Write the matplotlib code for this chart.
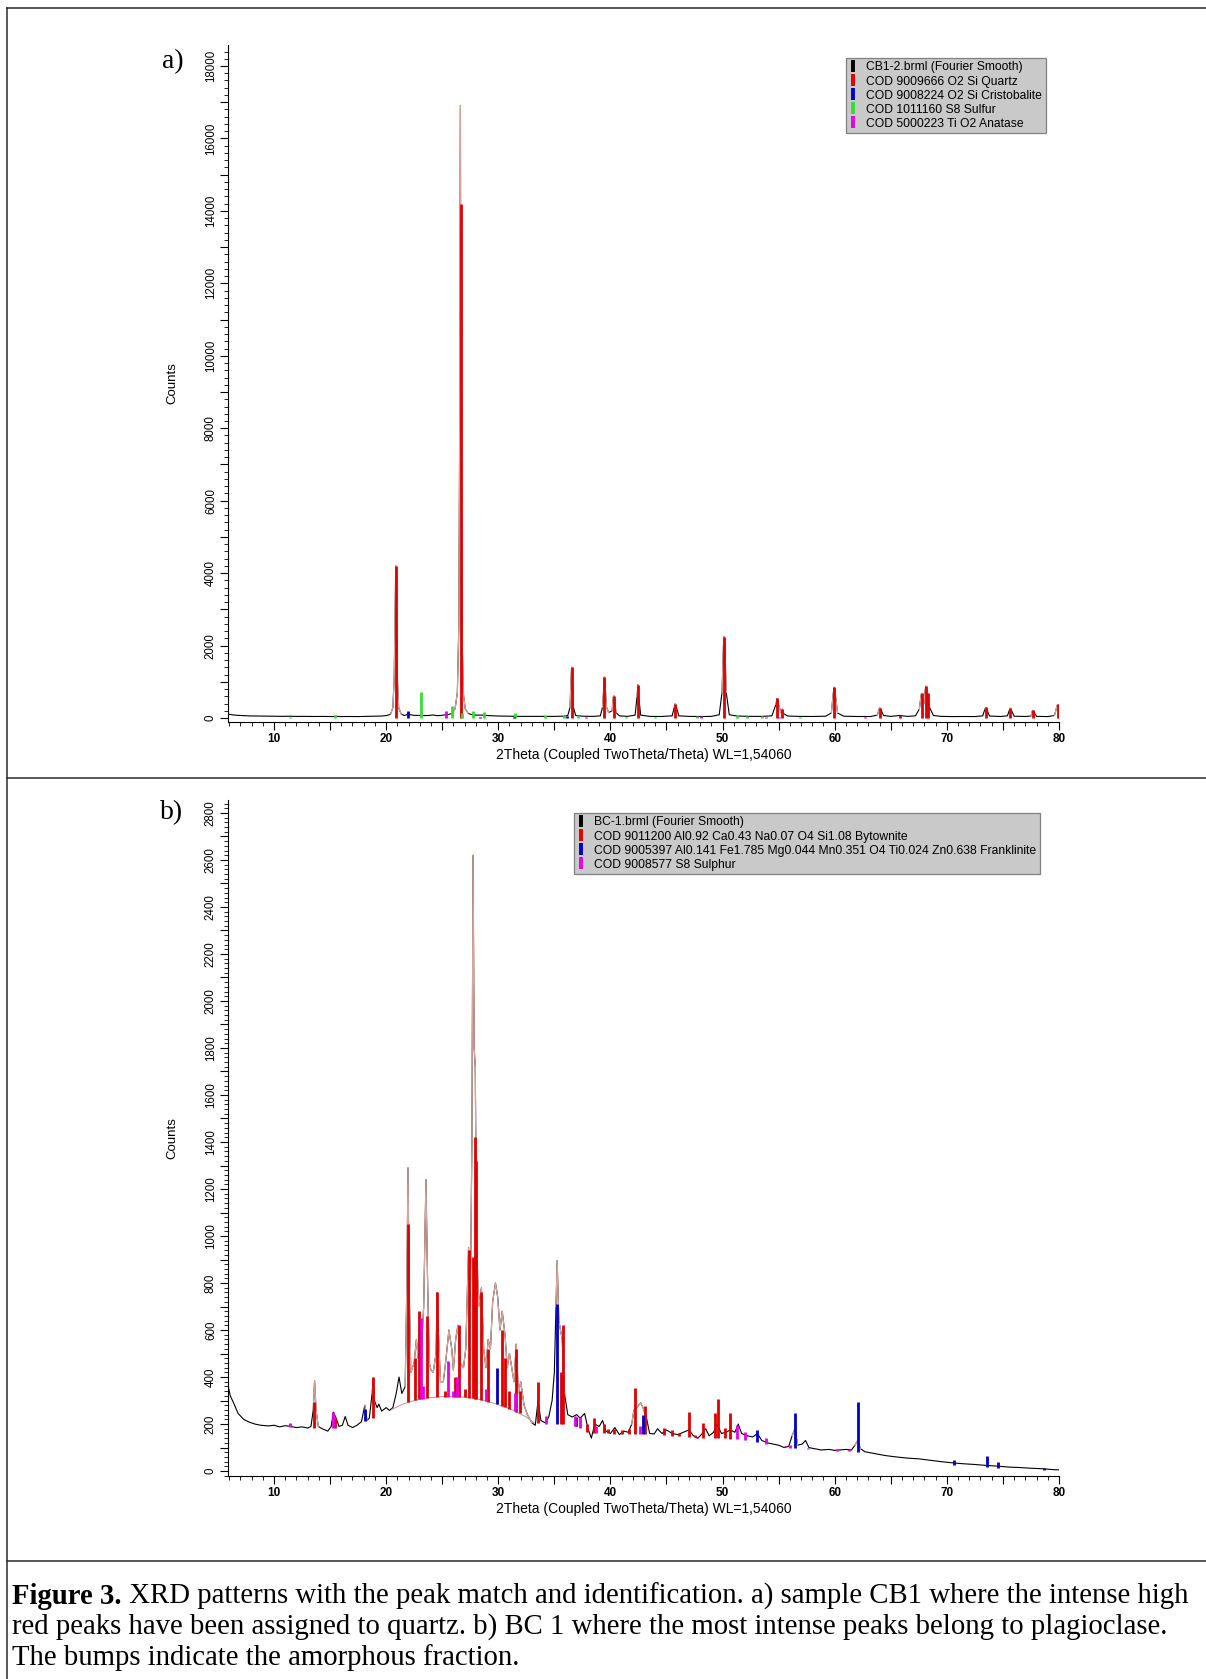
import numpy as np
import matplotlib
matplotlib.use("Agg")
import matplotlib.pyplot as plt
from matplotlib.lines import Line2D
from matplotlib.ticker import MultipleLocator, FuncFormatter

# ---------------- Panel a data ----------------
a_scan = [(5.9,115),(6.05,100),(6.3,88),(6.7,75),(7.2,66),(7.8,58),(8.5,55),(9.2,50),(10.0,48),
          (10.8,46),(11.4,50),(12.0,44),(12.8,45),(13.6,42),(14.4,44),(15.2,40),(15.5,48),(15.9,40),
          (16.7,42),(17.5,40),(18.3,45),(19.0,48),(19.6,55),(20.1,70),(20.4,110),(20.6,280),(20.72,1100),
          (20.8,3000),(20.86,4200),(20.92,3000),(21.0,1100),(21.12,280),(21.35,110),(21.6,70),(21.85,90),
          (22.0,140),(22.15,90),(22.5,75),(22.9,70),(23.3,68),(23.8,70),(24.2,85),(24.5,65),(24.9,70),
          (25.3,90),(25.6,100),(25.9,130),(26.15,260),(26.35,700),(26.48,2500),(26.56,8000),(26.62,16900),
          (26.68,8000),(26.76,2500),(26.88,700),(27.05,260),(27.3,130),(27.6,95),(28.0,80),(28.6,80),
          (29.2,65),(30.0,55),(31.0,50),(32.0,45),(33.0,45),(34.0,42),(35.0,45),(35.8,50),(36.2,70),
          (36.4,300),(36.48,1000),(36.54,1400),(36.6,1000),(36.7,300),(36.9,70),(37.5,50),(38.5,45),
          (39.1,60),(39.3,300),(39.42,900),(39.47,1140),(39.53,900),(39.65,300),(39.85,150),(40.15,200),
          (40.25,560),(40.29,620),(40.35,540),(40.5,150),(40.8,60),(41.5,45),(42.2,80),(42.38,600),
          (42.45,920),(42.52,600),(42.7,80),(43.5,45),(44.5,42),(45.5,60),(45.72,320),(45.79,400),
          (45.86,320),(46.1,60),(47.0,45),(48.0,42),(49.0,45),(49.7,90),(49.95,700),(50.08,2000),
          (50.14,2250),(50.2,2000),(50.33,700),(50.6,90),(51.3,55),(52.5,45),(53.5,45),(54.4,60),
          (54.76,380),(54.87,540),(54.98,380),(55.2,150),(55.33,250),(55.45,120),(55.8,55),(56.8,45),
          (58.0,42),(59.2,50),(59.7,140),(59.88,700),(59.96,850),(60.04,700),(60.25,140),(60.8,50),
          (62.0,42),(63.2,42),(63.8,80),(63.97,250),(64.03,280),(64.1,250),(64.35,70),(65.0,45),
          (65.78,70),(66.5,45),(67.2,60),(67.55,250),(67.7,620),(67.74,680),(67.8,600),(67.95,400),
          (68.08,800),(68.14,880),(68.22,700),(68.31,660),(68.45,300),(68.8,70),(69.5,45),(70.5,40),
          (71.5,42),(72.5,40),(73.2,60),(73.4,250),(73.47,290),(73.55,250),(73.8,55),(74.8,42),
          (75.4,60),(75.6,240),(75.66,270),(75.72,240),(76.0,50),(77.0,42),(77.5,55),(77.62,190),
          (77.67,210),(77.72,190),(78.0,45),(79.0,40),(79.6,70),(79.82,330),(79.88,370),(79.94,300),
          (80.0,140)]
a_peak_ranges = [(20.3,21.45),(25.9,27.4),(36.3,36.8),(39.2,39.9),(40.1,40.55),(42.3,42.6),
                 (45.6,46.0),(49.8,50.5),(54.6,55.5),(59.6,60.3),(63.8,64.3),(67.4,68.6),
                 (73.3,73.7),(75.5,75.85),(77.5,77.8),(79.6,80.0)]
a_quartz_x = [20.86,26.64,36.54,39.47,40.29,42.45,45.79,50.14,54.87,55.33,59.96,64.03,65.79,
              67.74,68.14,68.31,73.47,75.66,77.67,79.88,80.0]
a_quartz_y = [4200,14200,1400,1140,620,920,400,2250,540,260,850,280,80,680,880,700,300,280,220,380,140]
a_cristo_x = [21.98,28.4,31.4,36.1]
a_cristo_y = [200,40,40,50]
a_sulfur_x = [11.4,15.4,23.1,25.85,26.75,27.75,28.7,31.45,34.2,35.9,37.1,41.4,44.0,47.7,51.3,52.2,53.5,56.9]
a_sulfur_y = [40,90,720,330,150,180,170,150,70,70,90,40,40,50,80,50,50,40]
a_anatase_x = [25.3,37.8,48.05,53.9,55.06,62.7]
a_anatase_y = [200,40,50,40,40,30]
a_legend = ["CB1-2.brml (Fourier Smooth)", "COD 9009666 O2 Si Quartz",
            "COD 9008224 O2 Si Cristobalite", "COD 1011160 S8 Sulfur", "COD 5000223 Ti O2 Anatase"]

# ---------------- Panel b data ----------------
b_scan = [(5.9,365),(6.1,320),(6.4,290),(6.8,245),(7.3,220),(7.8,208),(8.3,200),(8.8,195),(9.5,192),
          (10.0,195),(10.5,188),(11.0,193),(11.5,190),(12.0,185),(12.5,188),(13.0,183),(13.3,190),
          (13.5,260),(13.62,385),(13.75,260),(13.95,190),(14.3,180),(14.8,170),(15.1,190),(15.3,250),
          (15.5,230),(15.8,190),(16.1,195),(16.35,232),(16.6,195),(17.0,185),(17.4,195),(17.8,210),
          (18.1,280),(18.3,215),(18.5,225),(18.75,330),(18.85,395),(18.95,300),(19.2,270),(19.35,285),
          (19.6,255),(20.0,270),(20.3,258),(20.6,270),(20.9,330),(21.15,400),(21.4,330),(21.7,360),
          (21.85,800),(21.95,1290),(22.05,800),(22.2,420),(22.5,460),(22.7,560),(22.85,480),(23.0,600),
          (23.15,520),(23.35,700),(23.55,1240),(23.7,800),(23.85,460),(24.0,430),(24.2,420),(24.45,500),
          (24.55,760),(24.65,600),(24.85,380),(25.1,380),(25.3,460),(25.6,600),(25.85,520),(26.0,430),
          (26.2,560),(26.4,620),(26.6,460),(26.9,440),(27.1,520),(27.35,950),(27.5,700),(27.65,1400),
          (27.75,2620),(27.85,1800),(27.95,1720),(28.05,1000),(28.25,700),(28.5,780),(28.7,520),
          (28.9,440),(29.1,560),(29.3,520),(29.5,720),(29.75,800),(29.95,740),(30.15,600),(30.35,680),
          (30.6,580),(30.8,440),(31.0,500),(31.4,380),(31.6,540),(31.8,330),(32.0,380),(32.3,280),
          (32.6,240),(33.0,205),(33.3,195),(33.55,300),(33.8,215),(34.2,205),(34.5,230),(34.8,300),
          (35.0,420),(35.15,700),(35.25,895),(35.4,640),(35.55,600),(35.7,560),(35.9,330),(36.2,240),
          (36.6,230),(37.0,240),(37.3,225),(37.7,245),(38.0,180),(38.3,140),(38.6,200),(39.0,190),
          (39.3,215),(39.6,170),(40.0,160),(40.4,185),(40.8,155),(41.2,170),(41.6,165),(41.9,200),
          (42.1,260),(42.35,270),(42.7,290),(42.9,270),(43.2,230),(43.5,160),(43.9,158),(44.2,180),
          (44.6,160),(45.0,175),(45.5,160),(46.0,155),(46.5,165),(47.0,175),(47.4,150),(47.8,140),
          (48.2,160),(48.5,180),(48.8,150),(49.2,165),(49.5,200),(49.9,160),(50.3,165),(50.7,175),
          (51.1,165),(51.4,200),(51.7,160),(52.2,150),(52.7,145),(53.1,160),(53.5,130),(54.0,120),
          (54.5,115),(55.0,110),(55.5,100),(55.9,105),(56.2,150),(56.45,180),(56.7,110),(57.1,115),
          (57.4,130),(57.7,100),(58.2,95),(58.8,90),(59.5,92),(60.0,88),(60.5,90),(61.0,92),(61.5,90),
          (61.8,110),(62.05,130),(62.3,95),(62.7,82),(63.5,75),(64.5,66),(65.5,60),(66.5,55),(67.5,52),
          (68.5,46),(69.5,40),(70.5,35),(71.5,31),(72.5,28),(73.5,24),(74.5,21),(75.5,17),(76.5,15),
          (77.5,12),(78.5,10),(79.5,6),(80.0,5)]
b_bg_x = [5.9,6.5,7.5,9,12,13,14.5,16,17.5,19,20.5,21.5,22.5,23.5,25,26.5,27.5,28.5,29.5,30.5,
          31.5,32.5,33.2,34,35,36,37,38,40,42,44,46,48,50,52,54,56,58,60,62,64,66,70,75,80]
b_bg_y = [330,250,205,192,188,186,182,185,200,230,262,285,300,310,317,316,312,303,290,275,
          255,230,205,198,200,198,190,165,160,158,155,148,142,140,132,115,100,92,88,82,72,55,30,12,3]
b_hump_range = (20.3, 33.3)
b_peak_ranges = [(13.35,14.0),(17.9,18.35),(18.6,19.0),(21.55,33.0),(35.05,36.1),(41.8,43.4),
                 (49.3,49.7),(51.2,51.6),(56.1,56.7),(61.7,62.35)]
b_bytow_x = [13.6,15.45,18.85,21.95,22.6,22.95,23.65,24.55,25.25,26.1,26.5,27.0,27.4,27.75,27.9,
             28.05,28.5,29.05,30.3,30.6,30.95,31.6,31.9,33.5,35.55,35.75,36.9,37.9,38.5,39.4,
             39.8,40.3,41.0,41.7,42.2,43.1,44.8,45.5,46.1,47.0,47.5,48.3,49.3,49.55,50.2,50.7]
b_bytow_y = [295,225,400,1050,480,680,660,760,340,400,620,350,940,910,1420,1320,760,520,600,480,
             340,520,340,380,420,620,220,200,225,200,180,180,175,180,355,275,185,175,160,250,
             155,205,245,305,185,245]
b_frank_x = [18.1,29.85,35.2,36.95,42.9,53.1,56.5,62.1,70.6,73.6,74.6,78.7]
b_frank_y = [265,440,710,230,240,175,245,295,45,65,38,15]
b_sulph_x = [11.4,15.3,23.1,23.3,25.55,26.0,26.3,28.9,31.45,34.3,36.8,37.3,38.7,42.65,47.7,
             51.3,52.0,53.9,55.6,56.0,57.6,58.7,59.3,60.2,61.3]
b_sulph_y = [205,250,650,360,470,340,400,350,330,235,235,230,190,190,142,195,165,140,105,
             110,100,95,90,92,95]
b_legend = ["BC-1.brml (Fourier Smooth)",
            "COD 9011200 Al0.92 Ca0.43 Na0.07 O4 Si1.08 Bytownite",
            "COD 9005397 Al0.141 Fe1.785 Mg0.044 Mn0.351 O4 Ti0.024 Zn0.638 Franklinite",
            "COD 9008577 S8 Sulphur"]

caption_bold = "Figure 3."
caption_lines = [" XRD patterns with the peak match and identification. a) sample CB1 where the intense high",
                 "red peaks have been assigned to quartz. b) BC 1 where the most intense peaks belong to plagioclase.",
                 "The bumps indicate the amorphous fraction."]

# ---------------- styling ----------------
RED = "#e00000"
BLUE = "#0000c8"
GREEN = "#33dd33"
MAGENTA = "#e600e6"
SALMON = "#d8a49c"
SANS = ["Liberation Sans", "DejaVu Sans"]
SERIF = ["Liberation Serif", "DejaVu Serif"]

W, H = 1206, 1679
fig = plt.figure(figsize=(W / 100, H / 100), dpi=100)


def fx(px):
    return px / W


def fy(py):
    return 1 - py / H


def style_axes(ax, ylim, ymaj, ymin, ylab_every):
    ax.set_xlim(5.9, 80)
    ax.set_ylim(*ylim)
    for s in ("top", "right"):
        ax.spines[s].set_visible(False)
    ax.spines["left"].set_linewidth(0.8)
    ax.spines["bottom"].set_linewidth(0.8)
    ax.xaxis.set_major_locator(MultipleLocator(5))
    ax.xaxis.set_minor_locator(MultipleLocator(1))
    ax.xaxis.set_major_formatter(FuncFormatter(lambda v, p: f"{int(round(v))}" if round(v) % 10 == 0 else ""))
    ax.yaxis.set_major_locator(MultipleLocator(ymaj))
    ax.yaxis.set_minor_locator(MultipleLocator(ymin))
    ax.yaxis.set_major_formatter(FuncFormatter(
        lambda v, p: f"{int(round(v))}" if (v >= 0 and round(v) % ylab_every == 0) else ""))
    ax.tick_params(which="major", direction="out", length=6, width=0.8, pad=2)
    ax.tick_params(which="minor", direction="out", length=3, width=0.6)
    for lab in ax.get_xticklabels():
        lab.set_fontfamily(SANS)
        lab.set_fontsize(8.5)
        lab.set_fontweight("bold")
    for lab in ax.get_yticklabels():
        lab.set_fontfamily(SANS)
        lab.set_fontsize(8.3)
        lab.set_rotation(90)
        lab.set_va("center")
        lab.set_ha("right")
    ax.set_xlabel("2Theta (Coupled TwoTheta/Theta) WL=1,54060", fontsize=10, family=SANS)
    ax.set_ylabel("Counts", fontsize=9.5, family=SANS)
    ax.xaxis.set_label_coords(0.5, -0.038)
    ax.yaxis.set_label_coords(-0.060, 0.5)


def plot_scan(ax, pairs, ranges):
    x = np.array([p[0] for p in pairs])
    y = np.array([p[1] for p in pairs])
    ax.plot(x, y, color="black", lw=0.8, zorder=2)
    for lo, hi in ranges:
        m = (x >= lo) & (x <= hi)
        ax.plot(x[m], y[m], color=SALMON, lw=0.9, zorder=3)


def make_legend(ax, labels, colors, anchor):
    handles = [Line2D([], [], marker="|", linestyle="None", markersize=9, markeredgewidth=2.8, color=c)
               for c in colors]
    leg = ax.legend(handles, labels, loc="upper right", bbox_to_anchor=anchor,
                    prop={"family": SANS, "size": 8.7}, frameon=True, fancybox=False,
                    facecolor="#c9c9c9", edgecolor="#808080", framealpha=1,
                    handlelength=0.6, handletextpad=0.8, labelspacing=0.17, borderpad=0.3,
                    borderaxespad=0)
    leg.get_frame().set_linewidth(0.9)


# ---- panel a ----
ax_a = fig.add_axes([fx(228), fy(722), fx(1059) - fx(228), fy(45) - fy(722)])
plot_scan(ax_a, a_scan, a_peak_ranges)
ax_a.vlines(a_quartz_x, 0, a_quartz_y, colors=RED, lw=2.0, zorder=4)
ax_a.vlines(a_sulfur_x, 0, a_sulfur_y, colors=GREEN, lw=2.0, zorder=4)
ax_a.vlines(a_cristo_x, 0, a_cristo_y, colors=BLUE, lw=2.0, zorder=4)
ax_a.vlines(a_anatase_x, 0, a_anatase_y, colors=MAGENTA, lw=2.0, zorder=4)
style_axes(ax_a, (-110, 18580), 1000, 200, 2000)
make_legend(ax_a, a_legend, ["black", RED, BLUE, GREEN, MAGENTA], (0.984, 0.981))

# ---- panel b ----
ax_b = fig.add_axes([fx(228), fy(1476), fx(1059) - fx(228), fy(800) - fy(1476)])
plot_scan(ax_b, b_scan, b_peak_ranges)
bgx = np.array(b_bg_x)
bgy = np.array(b_bg_y)
mh = (bgx >= b_hump_range[0]) & (bgx <= b_hump_range[1])
ax_b.plot(bgx[mh], bgy[mh], color="#c0908a", lw=0.7, zorder=2)
for xs, ys, c in ((b_bytow_x, b_bytow_y, RED), (b_frank_x, b_frank_y, BLUE), (b_sulph_x, b_sulph_y, MAGENTA)):
    base = np.interp(xs, bgx, bgy)
    ax_b.vlines(xs, base, ys, colors=c, lw=2.0, zorder=4)
style_axes(ax_b, (-21, 2855), 100, 20, 200)
make_legend(ax_b, b_legend, ["black", RED, BLUE, MAGENTA], (0.977, 0.981))

# ---- panel letters ----
fig.text(fx(173), fy(62), "a)", fontsize=20, family=SERIF, ha="center", va="center")
fig.text(fx(172), fy(813), "b)", fontsize=20, family=SERIF, ha="center", va="center")

# ---- table borders ----
lc = "#2a2a2a"
for (x0, y0, x1, y1) in [(7, 8, W, 8), (7, 8, 7, H), (7, 778, W, 778), (7, 1561, W, 1561)]:
    fig.add_artist(Line2D([fx(x0), fx(x1)], [fy(y0), fy(y1)], color=lc, lw=1.1))

# ---- caption ----
cap_size = 20.7
renderer = fig.canvas.get_renderer()
tb = fig.text(fx(12), fy(1596), caption_bold, fontsize=cap_size, family=SERIF, fontweight="bold",
              ha="left", va="center")
bb = tb.get_window_extent(renderer)
fig.text(bb.x1 / W, fy(1596), caption_lines[0], fontsize=cap_size, family=SERIF, ha="left", va="center")
fig.text(fx(12), fy(1627), caption_lines[1], fontsize=cap_size, family=SERIF, ha="left", va="center")
fig.text(fx(12), fy(1658), caption_lines[2], fontsize=cap_size, family=SERIF, ha="left", va="center")

fig.savefig("out.png", dpi=100)
